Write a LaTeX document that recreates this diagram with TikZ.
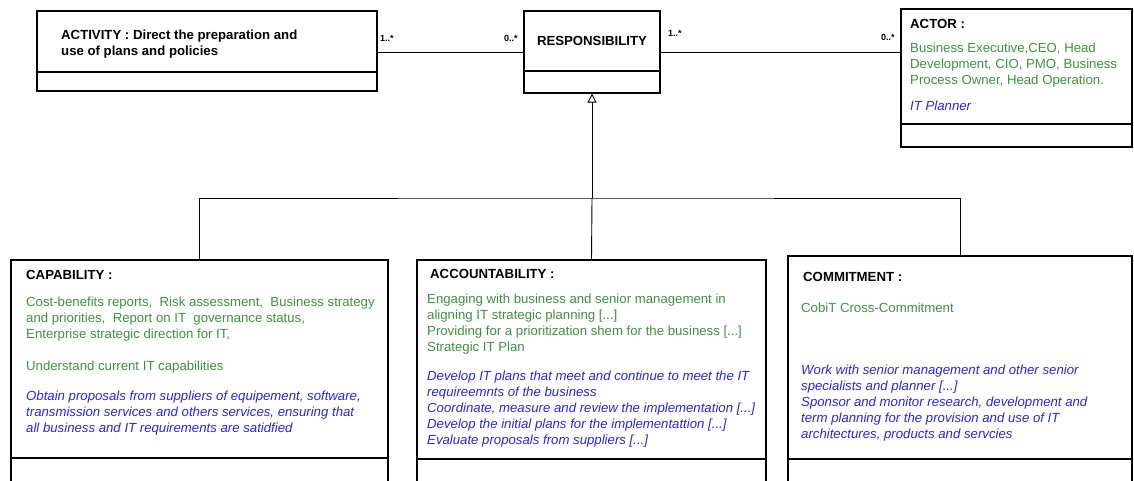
\documentclass[tikz,border=0pt]{standalone}
\usepackage{fontspec}
\setmainfont{Liberation Sans}
\usepackage{tikz}
\usetikzlibrary{arrows.meta}
\definecolor{attrgreen}{RGB}{62,146,62}
\definecolor{opblue}{RGB}{40,40,205}

\begin{document}
\begin{tikzpicture}[x=1pt,y=1pt,
  class node/.style={draw,line width=1.1pt,rectangle,inner sep=0pt},
  title/.style={font=\fontsize{13.2}{16}\selectfont\bfseries,anchor=north west,inner sep=0pt,align=left},
  attr/.style={font=\fontsize{13.2}{16}\selectfont,text=attrgreen,anchor=north west,inner sep=0pt,align=left},
  oper/.style={font=\fontsize{13.2}{16}\selectfont\itshape,text=opblue,anchor=north west,inner sep=0pt,align=left},
  mult/.style={font=\fontsize{9}{10}\selectfont\bfseries,anchor=base west,inner sep=0pt},
  link/.style={line width=0.9pt}]

\clip (0,0) rectangle (1134,481);

% class boxes
\node[class node,minimum width=340,minimum height=80] (activity) at (207,430){};
\node[class node,minimum width=136,minimum height=82] (responsibility) at (592,429){};
\node[class node,minimum width=231,minimum height=138] (actor) at (1016.5,403){};
\node[class node,minimum width=377,minimum height=236] (capability) at (199.5,103){};
\node[class node,minimum width=349,minimum height=236] (accountability) at (591.5,103){};
\node[class node,minimum width=344,minimum height=240] (commitment) at (960,105){};

% compartments
\draw[line width=1.1pt] (activity.west |- 0,409) -- (activity.east |- 0,409);
\draw[line width=1.1pt] (responsibility.west |- 0,410) -- (responsibility.east |- 0,410);
\draw[line width=1.1pt] (actor.west |- 0,357) -- (actor.east |- 0,357);
\draw[line width=1.1pt] (capability.west |- 0,23) -- (capability.east |- 0,23);
\draw[line width=1.1pt] (accountability.west |- 0,22) -- (accountability.east |- 0,22);
\draw[line width=1.1pt] (commitment.west |- 0,22) -- (commitment.east |- 0,22);

% texts
\node[title] (act-t) at (61,451) {ACTIVITY : Direct the preparation and\\use of plans and policies};
\node[font=\fontsize{13.2}{16}\selectfont\bfseries,inner sep=0pt] (resp-t) at (592,440) {RESPONSIBILITY};

\node[title] (actor-t) at (910,462) {ACTOR :};
\node[attr] (actor-a) at (910,438) {Business Executive,CEO, Head\\Development, CIO, PMO, Business\\Process Owner, Head Operation.};
\node[oper] (actor-o) at (910,380) {IT Planner};

\node[title] (cap-t) at (26,211) {CAPABILITY :};
\node[attr] (cap-a) at (26,184) {Cost-benefits reports,\ \ Risk assessment,\ \ Business strategy\\and priorities,\ \ Report on IT\ \ governance status,\\Enterprise strategic direction for IT,\\[16pt]Understand current IT capabilities};
\node[oper] (cap-o) at (26,90) {Obtain proposals from suppliers of equipement, software,\\transmission services and others services, ensuring that\\all business and IT requirements are satidfied};

\node[title] (acc-t) at (430,212) {ACCOUNTABILITY :};
\node[attr] (acc-a) at (427,187) {Engaging with business and senior management in\\aligning IT strategic planning [...]\\Providing for a prioritization shem for the business [...]\\Strategic IT Plan};
\node[oper] (acc-o) at (427,110) {Develop IT plans that meet and continue to meet the IT\\requireemnts of the business\\Coordinate, measure and review the implementation [...]\\Develop the initial plans for the implementattion [...]\\Evaluate proposals from suppliers [...]};

\node[title] (com-t) at (803,209) {COMMITMENT :};
\node[attr] (com-a) at (801,178) {CobiT Cross-Commitment};
\node[oper] (com-o) at (801,116) {Work with senior management and other senior\\specialists and planner [...]\\Sponsor and monitor research, development and\\term planning for the provision and use of IT\\architectures, products and servcies};

% associations
\draw[link] (responsibility.west) -- (responsibility.west -| activity.east);
\draw[link] (responsibility.east) -- (responsibility.east -| actor.west);
\node[mult] (m1) at (380,439) {1..*};
\node[mult] (m2) at (504,439) {0..*};
\node[mult] (m3) at (668,444) {1..*};
\node[mult] (m4) at (881,440) {0..*};

% generalization
\coordinate (junction) at (592,283);
\draw[link,-{Triangle[open,length=9pt,width=9pt,line width=0.9pt]}] (junction) -- (responsibility.south);
\draw[link] (capability.north) |- (junction) -| (commitment.north);
\draw[link] (accountability.north) -- (junction);

\end{tikzpicture}
\end{document}
